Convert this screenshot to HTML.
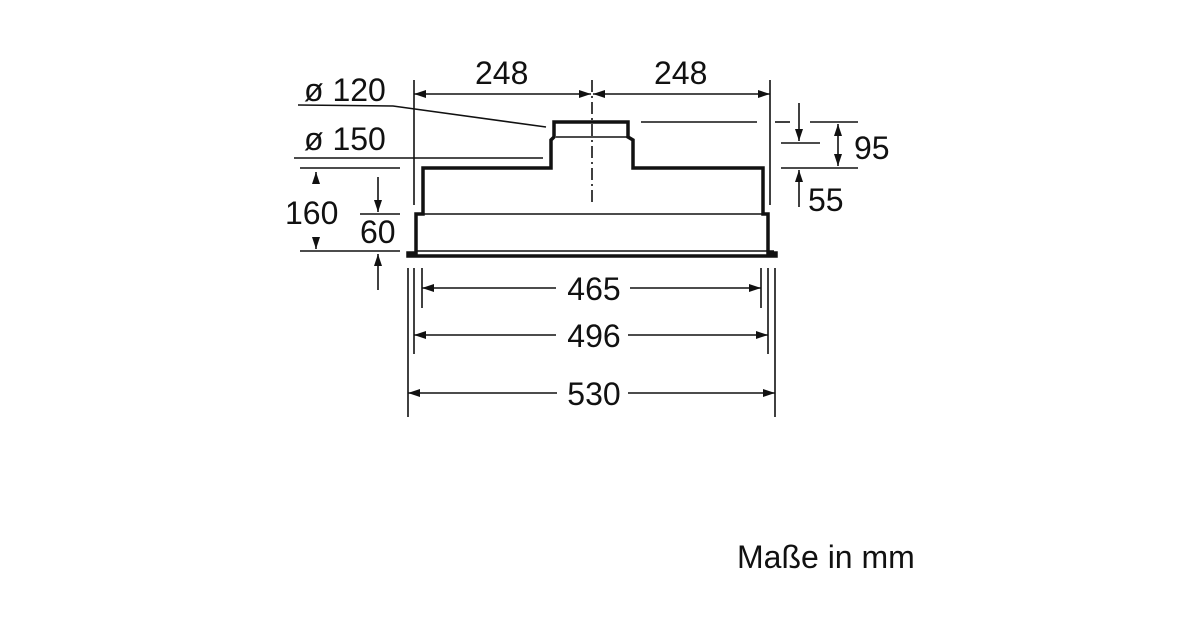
<!DOCTYPE html>
<html><head><meta charset="utf-8"><style>body{margin:0;background:#fff}svg{display:block}</style></head>
<body>
<svg width="1200" height="630" viewBox="0 0 1200 630" xmlns="http://www.w3.org/2000/svg" font-family="Liberation Sans, Arial, sans-serif" fill="#111">
<defs>
<marker id="a" viewBox="0 0 12 8" refX="12" refY="4" markerWidth="13" markerHeight="8" markerUnits="userSpaceOnUse" orient="auto-start-reverse"><path d="M0,0 L12,4 L0,8 Z" fill="#111"/></marker>
</defs>
<g stroke="#111" fill="none" stroke-width="1.6">
<polyline points="298,105 393,106 546,127"/>
<line x1="294" y1="158" x2="543" y2="158"/>
<line x1="414" y1="80" x2="414" y2="205"/>
<line x1="770" y1="80" x2="770" y2="205"/>
<line x1="592" y1="80" x2="592" y2="205" stroke-dasharray="12,4,2,4"/>
<line x1="414" y1="94" x2="591" y2="94" marker-start="url(#a)" marker-end="url(#a)"/>
<line x1="593" y1="94" x2="770" y2="94" marker-start="url(#a)" marker-end="url(#a)"/>
<line x1="556" y1="137" x2="629" y2="137"/>
<line x1="424" y1="214" x2="762" y2="214"/>
<line x1="416" y1="251" x2="774" y2="251"/>
<line x1="300" y1="168" x2="400" y2="168"/>
<line x1="300" y1="251" x2="400" y2="251"/>
<line x1="360" y1="214" x2="400" y2="214"/>
<line x1="316" y1="183" x2="316" y2="172" marker-end="url(#a)"/>
<line x1="316" y1="237" x2="316" y2="249" marker-end="url(#a)"/>
<line x1="378" y1="177" x2="378" y2="212" marker-end="url(#a)"/>
<line x1="378" y1="290" x2="378" y2="254" marker-end="url(#a)"/>
<line x1="641" y1="122" x2="757" y2="122"/>
<line x1="775" y1="122" x2="790" y2="122"/>
<line x1="810" y1="122" x2="858" y2="122"/>
<line x1="781" y1="143" x2="820" y2="143"/>
<line x1="781" y1="168" x2="858" y2="168"/>
<line x1="799" y1="103" x2="799" y2="141" marker-end="url(#a)"/>
<line x1="838" y1="124" x2="838" y2="166" marker-start="url(#a)" marker-end="url(#a)"/>
<line x1="799" y1="207" x2="799" y2="170" marker-end="url(#a)"/>
<line x1="408" y1="268" x2="408" y2="417"/>
<line x1="414" y1="268" x2="414" y2="354"/>
<line x1="422" y1="268" x2="422" y2="308"/>
<line x1="775" y1="268" x2="775" y2="417"/>
<line x1="768" y1="268" x2="768" y2="354"/>
<line x1="761" y1="268" x2="761" y2="308"/>
<line x1="422" y1="288" x2="556" y2="288" marker-start="url(#a)"/>
<line x1="630" y1="288" x2="761" y2="288" marker-end="url(#a)"/>
<line x1="414" y1="335" x2="556" y2="335" marker-start="url(#a)"/>
<line x1="628" y1="335" x2="768" y2="335" marker-end="url(#a)"/>
<line x1="408" y1="393" x2="557" y2="393" marker-start="url(#a)"/>
<line x1="628" y1="393" x2="775" y2="393" marker-end="url(#a)"/>
</g>
<path d="M408,256 L408,253 L416,253 L416,214 L423,214 L423,168 L551,168 L551,140 L554,137 L554,122 L628,122 L628,137 L633,140 L633,168 L763,168 L763,214 L768,214 L768,253 L776,253 L776,256 Z" fill="none" stroke="#111" stroke-width="3.5" stroke-linejoin="miter"/>
<g font-size="32">
<text x="304" y="101">ø 120</text>
<text x="304" y="150">ø 150</text>
<text x="475" y="84">248</text>
<text x="654" y="84">248</text>
<text x="285" y="224">160</text>
<text x="360" y="243">60</text>
<text x="854" y="159">95</text>
<text x="808" y="211">55</text>
<text x="594" y="300" text-anchor="middle">465</text>
<text x="594" y="347" text-anchor="middle">496</text>
<text x="594" y="405" text-anchor="middle">530</text>
<text x="737" y="568">Maße in mm</text>
</g>
</svg>
</body></html>
